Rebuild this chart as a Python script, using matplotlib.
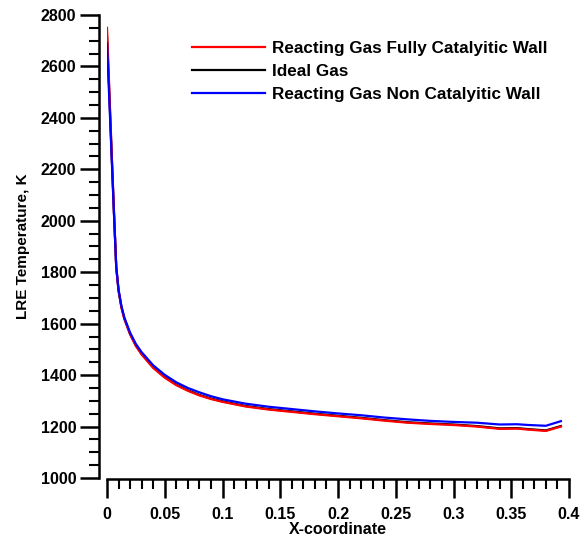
import matplotlib
matplotlib.use("Agg")
import matplotlib.pyplot as plt
from matplotlib.ticker import MultipleLocator, FuncFormatter

plt.rcParams['font.family'] = ['Liberation Sans', 'DejaVu Sans']
plt.rcParams['font.weight'] = 'bold'

x = [0, 0.002, 0.004, 0.006, 0.008, 0.01, 0.0125, 0.015, 0.02, 0.025, 0.03,
     0.04, 0.05, 0.06, 0.07, 0.08, 0.09, 0.1, 0.12, 0.14, 0.16, 0.18, 0.2,
     0.22, 0.24, 0.26, 0.28, 0.3, 0.32, 0.34, 0.355, 0.365, 0.38, 0.393]

t_fully_catalytic = [2750, 2510, 2270, 2040, 1820, 1728, 1663, 1618, 1558, 1513, 1480,
                     1428, 1390, 1361, 1339, 1321, 1307, 1296, 1278, 1266, 1257, 1248, 1240,
                     1232, 1223, 1215, 1210, 1206, 1200, 1191, 1192, 1188, 1183, 1200]

t_ideal = [2720, 2495, 2262, 2036, 1820, 1729, 1664, 1620, 1560, 1515, 1482,
           1430, 1392, 1363, 1341, 1323, 1309, 1298, 1280, 1268, 1259, 1250, 1242,
           1234, 1225, 1217, 1212, 1208, 1202, 1193, 1194, 1190, 1185, 1202]

t_non_catalytic = [2690, 2470, 2250, 2030, 1820, 1732, 1668, 1624, 1565, 1521, 1489,
                   1438, 1401, 1372, 1350, 1333, 1318, 1306, 1289, 1277, 1268, 1259, 1251,
                   1244, 1235, 1228, 1222, 1218, 1215, 1208, 1209, 1206, 1203, 1221]

labels = ["Reacting Gas Fully Catalyitic Wall", "Ideal Gas", "Reacting Gas Non Catalyitic Wall"]

W, H = 582, 540
fig = plt.figure(figsize=(W / 100, H / 100), dpi=100)
ax = fig.add_axes([107 / W, (H - 478) / H, (569 - 107) / W, (478 - 15) / H])

l_black, = ax.plot(x, t_ideal, color='black', lw=1.6, zorder=2)
l_red, = ax.plot(x, t_fully_catalytic, color='#ff0000', lw=1.6, zorder=3)
l_blue, = ax.plot(x, t_non_catalytic, color='#0000ff', lw=1.6, zorder=4)

ax.set_xlim(0, 0.4)
ax.set_ylim(1000, 2800)

ax.xaxis.set_major_locator(MultipleLocator(0.05))
ax.xaxis.set_minor_locator(MultipleLocator(0.01))
ax.yaxis.set_major_locator(MultipleLocator(200))
ax.yaxis.set_minor_locator(MultipleLocator(50))

ax.xaxis.set_major_formatter(FuncFormatter(lambda v, p: "0" if abs(v) < 1e-9 else f"{v:g}"))

for s in ['top', 'right']:
    ax.spines[s].set_visible(False)
ax.spines['left'].set_position(('outward', 6))
ax.spines['bottom'].set_position(('outward', 1))
for s in ['left', 'bottom']:
    ax.spines[s].set_linewidth(1.8)

ax.tick_params(axis='both', which='major', direction='out', length=14, width=1.8,
               labelsize=11.5)
ax.tick_params(axis='both', which='minor', direction='out', length=7, width=1.5)
ax.tick_params(axis='y', which='major', pad=2)
ax.tick_params(axis='x', which='major', pad=6)
for lab in ax.get_xticklabels() + ax.get_yticklabels():
    lab.set_fontweight('bold')

ax.set_xlabel("X-coordinate", fontsize=11.5, fontweight='bold', labelpad=0)
ax.set_ylabel("LRE Temperature, K", fontsize=11, fontweight='bold', labelpad=8)

leg = ax.legend([l_red, l_black, l_blue], labels, loc='upper left',
                bbox_to_anchor=(192 / W, (H - 41) / H), bbox_transform=fig.transFigure,
                frameon=False, fontsize=12.3, handlelength=4.3, handletextpad=0.4,
                labelspacing=0.48, borderpad=0, borderaxespad=0)
for t in leg.get_texts():
    t.set_fontweight('bold')
for h in leg.get_lines():
    h.set_linewidth(1.6)

fig.savefig("out.png", dpi=100)
